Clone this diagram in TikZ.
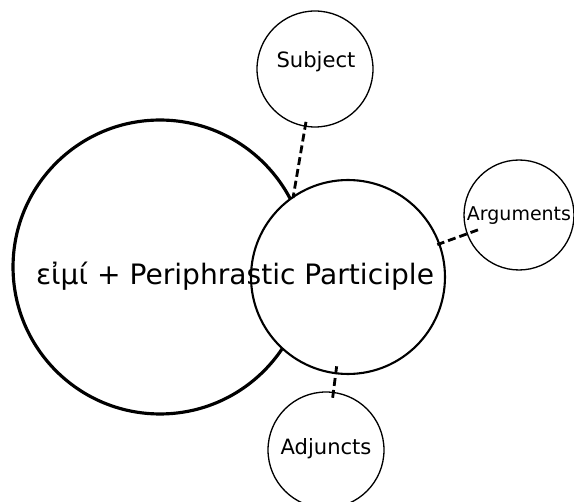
\documentclass[tikz,border=0pt]{standalone}
\usepackage{fontspec}
\setmainfont{DejaVu Sans}
\usetikzlibrary{positioning}
\begin{document}
\begin{tikzpicture}[x=0.02cm,y=-0.02cm,
	role/.style={circle,draw,line width=0.75pt,fill=white,inner sep=0pt,minimum size=2.32cm},
	rolelabel/.style={anchor=base,font=\fontsize{12}{14}\selectfont},
	link/.style={line width=1.6pt,dash pattern=on 4.5pt off 2.3pt}]
			\useasboundingbox (0,0) rectangle (574,502);
			\node[circle,draw,line width=1.8pt,fill=white,inner sep=0pt,minimum size=5.88cm](eimi) at (160,267) {};
			\node[circle,draw,line width=1.2pt,fill=white,inner sep=0pt,minimum size=3.88cm](part) at (348,277) {};
			\node[role](subj) at (315,69) {};
			\node[role,minimum size=2.2cm](args) at (519,215) {};
			\node[role](adj) at (326,450) {};
			\coordinate (meet) at (293,198);
			\path[link]
			(subj) edge [shorten <=-0.1cm] (meet)
			(args) edge [shorten <=-0.24cm,shorten >=-0.06cm] (part)
			(adj) edge [shorten <=-0.12cm,shorten >=-0.16cm] (part);
			\node[rolelabel](subjtext) at (316,68) {Subject};
			\node[rolelabel,font=\fontsize{10.8}{13}\selectfont](argstext) at (519,221) {Arguments};
			\node[rolelabel](adjtext) at (326,455) {Adjuncts};
			\node[anchor=base,font=\fontsize{16}{20}\selectfont](phrase) at (235,285) {εἰμί + Periphrastic Participle};
			\end{tikzpicture}
\end{document}
